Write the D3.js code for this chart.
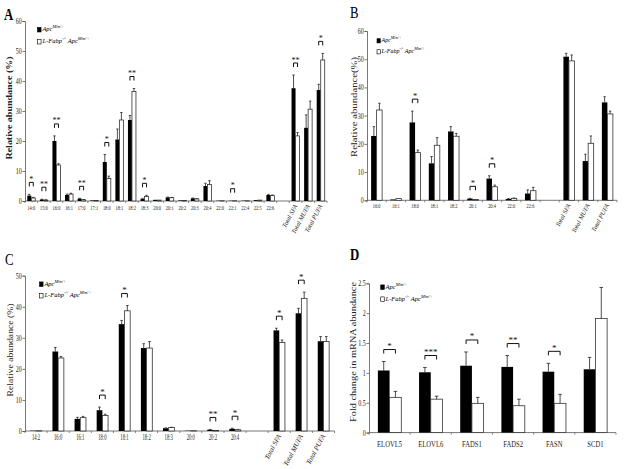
<!DOCTYPE html>
<html><head><meta charset="utf-8">
<script src="https://cdn.jsdelivr.net/npm/d3@7"></script>
<style>body{margin:0;background:#fff}svg{display:block}</style>
</head><body>
<svg id="fig" width="629" height="469"></svg>
<script>
// ---------------- DATA ----------------
// Panel A
const catsA = ["14:0","15:0","16:0","16:1","17:0","17:1","18:0","18:1","18:2","18:3","20:0","20:1","20:2","20:3","20:4","22:0","22:1","22:4","22:5","22:6"," ","Total SFA","Total MUFA","Total PUFA"];
const apcA    = [1.8,0.5,20,2.0,0.8,0.2,13,20.5,27,0.7,0.4,1.2,0.2,0.9,5.0,0.1,0.1,0.1,0.3,2.0,null,37.6,24.4,37.0];
const apcSdA  = [0.4,0.1,1.7,0.3,0.1,0,2.5,3.5,1.5,0.2,0,0.1,0,0.1,0.9,0,0,0,0,0.2,null,4.4,4.3,1.9];
const fabpA   = [1.0,0.3,12,2.3,0.4,0.2,7.5,27,36.5,1.5,0.3,1.1,0.2,0.7,5.5,0.1,0.1,0.1,0.3,1.8,null,21.7,30.6,47.0];
const fabpSdA = [0.2,0.1,0.4,0.3,0.1,0,0.8,2.5,1.0,0.4,0,0.1,0,0.1,1.3,0,0,0,0,0.2,null,1.1,2.7,2.2];
const sigA = [["14:0","*"],["15:0","**"],["16:0","**"],["17:0","**"],["18:0","*"],["18:2","**"],["18:3","*"],["22:1","*"],["Total SFA","**"],["Total PUFA","*"]];
const ticksA = [0,10,20,30,40,50,60];
// Panel B
const catsB = ["16:0","16:1","18:0","18:1","18:2","20:1","20:4","22:0","22:6"," ","Total SFA","Total MUFA","Total PUFA"];
const apcB    = [22.8,0.3,27.6,13.1,24.4,0.6,7.7,0.5,2.4,null,50.9,13.9,34.7];
const apcSdB  = [3.3,0,4.0,2.4,1.7,0.1,1.0,0.1,1.3,null,1.2,2.4,2.0];
const fabpB   = [32,0.6,16.9,19.5,22.7,0.3,4.8,0.7,3.4,null,49.4,20.2,30.6];
const fabpSdB = [2.4,0,0.9,2.7,1.0,0,0.6,0.1,1.2,null,2.1,2.6,1.0];
const sigB = [["18:0","*"],["20:1","*"],["20:4","*"]];
const ticksB = [0,10,20,30,40,50,60];
// Panel C
const catsC = ["14:2","16:0","16:1","18:0","18:1","18:2","18:3","20:0","20:2","20:4"," ","Total SFA","Total MUFA","Total PUFA"];
const apcC    = [0.1,25.6,3.9,6.7,34.4,26.7,0.9,0.1,0.4,0.7,null,32.4,37.9,28.9];
const apcSdC  = [0,1.3,0.5,1.0,1.2,1.4,0.1,0,0.1,0.2,null,0.7,1.6,1.5];
const fabpC   = [0.1,23.5,4.3,5.0,38.7,26.7,1.1,0.1,0.2,0.4,null,28.5,42.7,28.8];
const fabpSdC = [0,0.5,0.4,0.4,1.7,2.1,0.1,0,0,0.1,null,0.8,2.0,1.6];
const sigC = [["18:0","*"],["18:1","*"],["20:2","**"],["20:4","*"],["Total SFA","*"],["Total MUFA","*"]];
const ticksC = [0,10,20,30,40,50];
// Panel D
const genesD  = ["ELOVL5","ELOVL6","FADS1","FADS2","FASN","SCD1"];
const apcD    = [1.04,1.01,1.12,1.10,1.02,1.06];
const apcSdD  = [0.15,0.08,0.23,0.19,0.14,0.20];
const fabpD   = [0.59,0.56,0.49,0.45,0.49,1.91];
const fabpSdD = [0.10,0.05,0.10,0.11,0.15,0.52];
const sigD = [["ELOVL5","*"],["ELOVL6","***"],["FADS1","*"],["FADS2","**"],["FASN","*"]];
const ticksD = [0,0.5,1,1.5,2,2.5];

// ---------------- DRAW ----------------
const svg = d3.select("#fig");
const SERIF = "'Liberation Serif','Times New Roman',serif";

function legendItem(g, x, y, fill, parts, fs) {
  g.append("rect").attr("x", x).attr("y", y - fs*0.55).attr("width", fs*0.55).attr("height", fs*0.7)
    .attr("fill", fill).attr("stroke", "#000").attr("stroke-width", 0.6);
  const t = g.append("text").attr("x", x + fs*0.75).attr("y", y)
    .attr("font-family", SERIF).attr("font-style", "italic").attr("font-size", fs);
  let shift = 0;
  parts.forEach(p => {
    const target = p.sup ? -fs*0.45 : 0;
    const ts = t.append("tspan").attr("dy", target - shift).text(p.t);
    if (p.sup) ts.attr("font-size", fs*0.7);
    shift = target;
  });
}

function drawPanel(p) {
  const g = svg.append("g");
  const x = d3.scaleBand().domain(p.cats).range(p.xRange).paddingInner(0).paddingOuter(0);
  const y = d3.scaleLinear().domain([0, p.yMax]).range([p.y0, p.yTop]);
  const cx = c => x(c) + x.bandwidth() / 2;

  // y axis
  const ya = g.append("g").attr("transform", `translate(${p.xRange[0]},0)`)
    .call(d3.axisLeft(y).tickValues(p.ticks).tickSize(2.5).tickPadding(1.5).tickFormat(d => String(d)));
  ya.select(".domain").attr("stroke", "#555").attr("stroke-width", 0.8);
  ya.selectAll(".tick line").attr("stroke", "#555").attr("stroke-width", 0.8);
  ya.selectAll("text").attr("font-family", SERIF).attr("font-size", p.yfs)
    .attr("fill", "#222").attr("transform", `scale(${p.ysx},1)`);

  // x axis line + boundary ticks
  g.append("line").attr("x1", p.xRange[0]).attr("x2", p.xRange[1]).attr("y1", p.y0).attr("y2", p.y0)
    .attr("stroke", "#555").attr("stroke-width", 0.8);
  const bounds = p.cats.map(c => x(c)).concat([p.xRange[1]]);
  g.selectAll(".bt").data(bounds).join("line").attr("x1", d => d).attr("x2", d => d)
    .attr("y1", p.y0).attr("y2", p.y0 + 2).attr("stroke", "#555").attr("stroke-width", 0.7);

  // x labels
  p.cats.forEach(c => {
    if (c.trim() === "") return;
    if (c.startsWith("Total")) {
      g.append("text").attr("transform", `translate(${cx(c) + 2},${p.y0 + 5}) rotate(-62)`)
        .attr("text-anchor", "end").attr("font-family", SERIF).attr("font-style", "italic")
        .attr("font-size", p.rfs).attr("fill", "#222").text(c);
    } else {
      g.append("text").attr("transform", `translate(${cx(c)},${p.labelY}) scale(${p.xsx},1)`)
        .attr("text-anchor", "middle").attr("font-family", SERIF)
        .attr("font-size", p.xfs).attr("fill", "#222").text(c);
    }
  });

  // bars
  const rows = p.cats.map((c, i) => ({c, a: p.apc[i], as: p.apcSd[i], f: p.fabp[i], fs: p.fabpSd[i]}))
    .filter(r => r.a != null);
  const bw = p.bw;
  rows.forEach(r => {
    const c0 = cx(r.c);
    g.append("rect").attr("x", c0 - bw).attr("width", bw).attr("y", y(r.a)).attr("height", y(0) - y(r.a)).attr("fill", "#000");
    g.append("rect").attr("x", c0).attr("width", bw).attr("y", y(r.f)).attr("height", y(0) - y(r.f))
      .attr("fill", "#fff").attr("stroke", "#333").attr("stroke-width", 0.8);
    [[c0 - bw/2, r.a, r.as], [c0 + bw/2, r.f, r.fs]].forEach(([ex, v, s]) => {
      if (!s) return;
      g.append("line").attr("x1", ex).attr("x2", ex).attr("y1", y(v)).attr("y2", y(v + s)).attr("stroke", "#222").attr("stroke-width", 0.8);
      g.append("line").attr("x1", ex - p.cap).attr("x2", ex + p.cap).attr("y1", y(v + s)).attr("y2", y(v + s)).attr("stroke", "#222").attr("stroke-width", 0.8);
    });
  });

  // significance brackets
  p.sig.forEach(([c, lab]) => {
    const i = p.cats.indexOf(c);
    const top = y(p.apc[i] + (p.apcSd[i] || 0));
    const top2 = y(p.fabp[i] + (p.fabpSd[i] || 0));
    const by = Math.min(top, top2) - 12;
    const c0 = cx(c), x1 = c0 - bw/2, x2 = c0 + bw/2;
    g.append("path").attr("d", `M${x1},${by + 4}V${by}H${x2}V${by + 4}`)
      .attr("fill", "none").attr("stroke", "#111").attr("stroke-width", 1);
    g.append("text").attr("x", c0).attr("y", by - 0.5).attr("text-anchor", "middle")
      .attr("font-family", SERIF).attr("font-size", p.sfs).attr("fill", "#111").text(lab);
  });

  // legend
  legendItem(g, p.legX, p.legY[0], "#000", [{t: "Apc"}, {t: "Min/+", sup: true}], p.lfs);
  legendItem(g, p.legX, p.legY[1], "#fff", [{t: "L-Fabp"}, {t: "-/-", sup: true}, {t: " Apc"}, {t: "Min/+", sup: true}], p.lfs);

  // y title
  g.append("text").attr("transform", `translate(${p.ytX},${p.ytY}) rotate(-90)`)
    .attr("text-anchor", "middle").attr("dy", "0.35em").attr("font-family", SERIF)
    .attr("font-weight", p.ytBold ? "bold" : "normal").attr("font-size", p.ytfs).attr("fill", "#222")
    .attr("textLength", p.ytLen).attr("lengthAdjust", "spacingAndGlyphs").text(p.ytitle);

  // panel letter
  g.append("text").attr("x", p.letX).attr("y", p.letY).attr("font-family", SERIF)
    .attr("font-weight", p.letBold ? "bold" : "normal").attr("font-size", 16)
    .attr("transform-origin", `${p.letX} ${p.letY}`).attr("transform", "scale(0.8,1)").text(p.letter);
}

drawPanel({cats: catsA, apc: apcA, apcSd: apcSdA, fabp: fabpA, fabpSd: fabpSdA, sig: sigA, ticks: ticksA,
  xRange: [25, 327], y0: 201, yTop: 21, yMax: 60, bw: 4, cap: 1.2,
  yfs: 7.5, ysx: 0.8, xfs: 7, xsx: 0.62, rfs: 6.5, labelY: 209.5, sfs: 8,
  legX: 37.5, legY: [31, 43], lfs: 6.5,
  ytitle: "Relative abundance (%)", ytX: 9, ytY: 108, ytLen: 103, ytfs: 8.5, ytBold: true,
  letter: "A", letX: 4, letY: 20, letBold: true});

drawPanel({cats: catsB, apc: apcB, apcSd: apcSdB, fabp: fabpB, fabpSd: fabpSdB, sig: sigB, ticks: ticksB,
  xRange: [367, 617], y0: 200.3, yTop: 31, yMax: 60, bw: 5.5, cap: 1.2,
  yfs: 7.5, ysx: 0.8, xfs: 7, xsx: 0.62, rfs: 6.5, labelY: 208, sfs: 8.5,
  legX: 377, legY: [42, 53], lfs: 6,
  ytitle: "Relative abundance(%)", ytX: 354, ytY: 107, ytLen: 100, ytfs: 8.5, ytBold: false,
  letter: "B", letX: 350, letY: 18.5, letBold: false});

drawPanel({cats: catsC, apc: apcC, apcSd: apcSdC, fabp: fabpC, fabpSd: fabpSdC, sig: sigC, ticks: ticksC,
  xRange: [25, 334.5], y0: 431, yTop: 275.7, yMax: 50, bw: 5.7, cap: 1.3,
  yfs: 7.5, ysx: 0.8, xfs: 7.5, xsx: 0.62, rfs: 7, labelY: 440, sfs: 9,
  legX: 39.5, legY: [285.5, 297], lfs: 6.5,
  ytitle: "Relative abundance (%)", ytX: 10, ytY: 350, ytLen: 93, ytfs: 8.5, ytBold: false,
  letter: "C", letX: 5, letY: 265.5, letBold: false});

drawPanel({cats: genesD, apc: apcD, apcSd: apcSdD, fabp: fabpD, fabpSd: fabpSdD, sig: sigD, ticks: ticksD,
  xRange: [369, 616], y0: 432.6, yTop: 283.3, yMax: 2.5, bw: 11.7, cap: 1.8,
  yfs: 7.5, ysx: 0.8, xfs: 8.5, xsx: 0.78, rfs: 7, labelY: 447, sfs: 9,
  legX: 380.7, legY: [288.5, 300.5], lfs: 6.5,
  ytitle: "Fold change in mRNA abundance", ytX: 353, ytY: 352, ytLen: 140, ytfs: 8.5, ytBold: false,
  letter: "D", letX: 350, letY: 260, letBold: true});
</script>
</body></html>
